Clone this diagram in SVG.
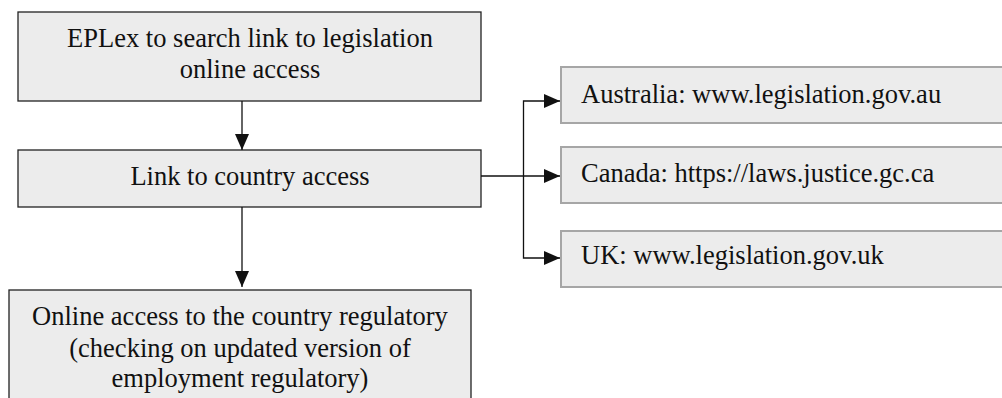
<svg xmlns="http://www.w3.org/2000/svg" width="1002" height="398" viewBox="0 0 1002 398">
<style>
.box{fill:#ececec;stroke:#222;stroke-width:1.3}
.gbox{fill:#ececec;stroke:#a6a6a6;stroke-width:2}
.t{font-family:"Liberation Serif","Times New Roman",serif;font-size:26.5px;fill:#111}
.c{text-anchor:middle}
.ln{fill:none;stroke:#111;stroke-width:1.3}
</style>
<defs>
<marker id="ah" markerUnits="userSpaceOnUse" markerWidth="16" markerHeight="16" viewBox="0 0 16 16" refX="16" refY="8" orient="auto">
<path d="M0,1 L16,8 L0,15 Z" fill="#111"/>
</marker>
</defs>
<rect width="1002" height="398" fill="#fff"/>
<g id="n1">
<rect class="box" x="18" y="12" width="463" height="89"/>
<text class="t c" x="250" y="47">EPLex to search link to legislation</text>
<text class="t c" x="250" y="78">online access</text>
</g>
<g id="n2">
<rect class="box" x="18" y="150" width="463" height="57"/>
<text class="t c" x="250" y="185">Link to country access</text>
</g>
<g id="n3">
<rect class="box" x="9" y="290" width="462" height="120"/>
<text class="t c" x="240" y="325">Online access to the country regulatory</text>
<text class="t c" x="240" y="357">(checking on updated version of</text>
<text class="t c" x="240" y="387">employment regulatory)</text>
</g>
<g id="au">
<rect class="gbox" x="561" y="67" width="450" height="56"/>
<text class="t" x="581" y="103">Australia: www.legislation.gov.au</text>
</g>
<g id="ca">
<rect class="gbox" x="561" y="147" width="450" height="56"/>
<text class="t" x="581" y="182">Canada: https://laws.justice.gc.ca</text>
</g>
<g id="uk">
<rect class="gbox" x="561" y="231" width="450" height="56"/>
<text class="t" x="581" y="264">UK: www.legislation.gov.uk</text>
</g>
<g id="connectors">
<path class="ln" d="M242,101 V150" marker-end="url(#ah)"/>
<path class="ln" d="M242,207 V287" marker-end="url(#ah)"/>
<path class="ln" d="M481,176 H560" marker-end="url(#ah)"/>
<path class="ln" d="M523.5,176 V101 H560" marker-end="url(#ah)"/>
<path class="ln" d="M523.5,176 V258 H560" marker-end="url(#ah)"/>
</g>
</svg>
